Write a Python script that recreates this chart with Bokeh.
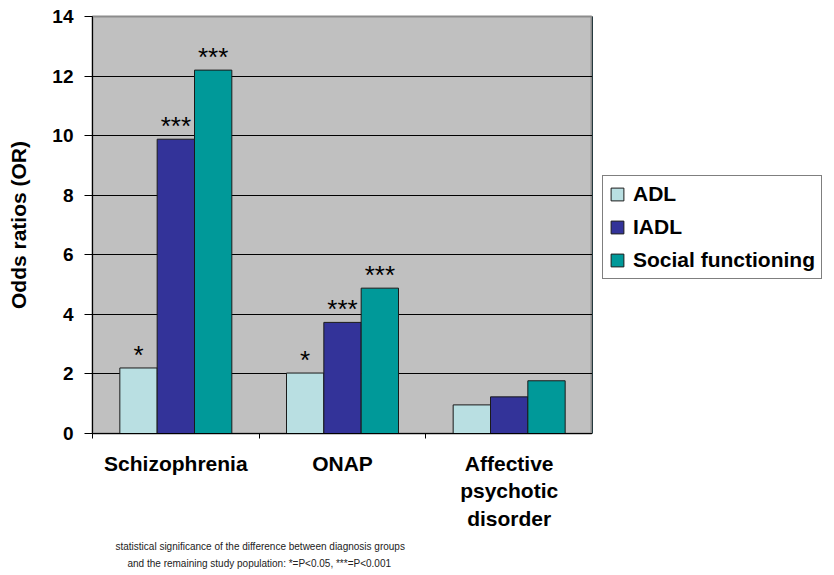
from bokeh.plotting import figure
from bokeh.layouts import row
from bokeh.models import Range1d, FixedTicker, Title, ColumnDataSource, Legend, LegendItem
from bokeh.core.properties import value
from bokeh.embed import file_html
from bokeh.resources import INLINE

categories = ["Schizophrenia", "ONAP", "Affective\npsychotic\ndisorder"]
series = ["ADL", "IADL", "Social functioning"]
adl = [2.2, 2.03, 0.96]
iadl = [9.88, 3.73, 1.23]
social = [12.2, 4.88, 1.77]
adl_sig = ["*", "*", ""]
iadl_sig = ["***", "***", ""]
social_sig = ["***", "***", ""]
colors = ["#B9DFE2", "#333399", "#009999"]
y_ticks = [0, 2, 4, 6, 8, 10, 12, 14]
footnote = ["statistical significance of the difference between diagnosis groups",
            "and the remaining study population: *=P<0.05, ***=P<0.001"]

FONT = "Liberation Sans"
H = 575

p = figure(width=592, height=H, output_backend="svg", toolbar_location=None,
           x_range=Range1d(0, len(categories)), y_range=Range1d(0, 14),
           min_border_left=92, min_border_right=0, min_border_top=16,
           min_border_bottom=142)
p.border_fill_color = "white"
p.background_fill_color = "#C0C0C0"
p.outline_line_color = "#8C8C8C"
p.outline_line_width = 2

bw = 0.224
offsets = [-bw, 0.0, bw]
values = [adl, iadl, social]
sigs = [adl_sig, iadl_sig, social_sig]
for k in range(3):
    xs = [i + 0.5 + offsets[k] for i in range(len(categories))]
    src = ColumnDataSource(dict(x=xs, top=values[k], sig=sigs[k]))
    p.vbar(x="x", top="top", width=bw, source=src, fill_color=colors[k],
           line_color="#1a1a1a", line_width=1)
    p.text(x="x", y="top", text="sig", source=src, text_align="center",
           text_baseline="alphabetic", y_offset=-13, text_font_size="26px",
           text_font=value(FONT), text_color="black")

# axes
p.yaxis.ticker = FixedTicker(ticks=y_ticks)
p.yaxis.axis_label = "Odds ratios (OR)"
p.yaxis.axis_label_text_font = FONT
p.yaxis.axis_label_text_font_size = "21px"
p.yaxis.axis_label_text_font_style = "bold"
p.yaxis.axis_label_text_color = "black"
p.yaxis.axis_label_standoff = 19
p.yaxis.major_label_text_font = FONT
p.yaxis.major_label_text_font_size = "19px"
p.yaxis.major_label_text_font_style = "bold"
p.yaxis.major_label_text_color = "black"
p.yaxis.major_label_standoff = 11
p.yaxis.major_tick_out = 8
p.yaxis.major_tick_in = 0
p.yaxis.minor_tick_line_color = None
p.yaxis.axis_line_color = "black"
p.yaxis.major_tick_line_color = "black"

label_pos = [i + 0.5 for i in range(len(categories))]
p.xaxis.ticker = FixedTicker(ticks=label_pos, minor_ticks=list(range(len(categories) + 1)))
p.xaxis.major_label_overrides = {pos: lab for pos, lab in zip(label_pos, categories)}
p.xaxis.major_tick_line_color = None
p.xaxis.major_tick_out = 0
p.xaxis.major_tick_in = 0
p.xaxis.minor_tick_line_color = "black"
p.xaxis.minor_tick_out = 5
p.xaxis.minor_tick_in = 0
p.xaxis.axis_line_color = "black"
p.xaxis.major_label_standoff = 13
p.xaxis.major_label_text_font = FONT
p.xaxis.major_label_text_font_size = "21px"
p.xaxis.major_label_text_font_style = "bold"
p.xaxis.major_label_text_color = "black"

p.xgrid.grid_line_color = None
p.ygrid.grid_line_color = "black"
p.ygrid.grid_line_width = 1

# footnote
for txt, off, so in zip(footnote, [23, 35], [13, -6]):
    p.add_layout(Title(text=txt, align="left", offset=off, text_font=FONT,
                       text_font_size="10px", text_font_style="normal",
                       text_color="#222222", standoff=so), "below")

# legend panel (separate figure to the right of the chart)
p2 = figure(width=242, height=H, output_backend="svg", toolbar_location=None,
            x_range=Range1d(0, 1), y_range=Range1d(0, 1),
            min_border=0)
p2.axis.visible = False
p2.grid.visible = False
p2.outline_line_color = None
p2.background_fill_color = "white"
p2.border_fill_color = "white"
items = []
for k in range(3):
    # key swatches only: one hidden bar placed outside the visible range
    r = p2.vbar(x=[-10], top=[adl[0]], width=0.1, fill_color=colors[k],
                line_color="#1a1a1a", line_width=1)
    items.append(LegendItem(label=series[k], renderers=[r]))

lg = Legend(items=items, location=(10, 154))
lg.border_line_color = "black"
lg.border_line_width = 1
lg.background_fill_color = "white"
lg.background_fill_alpha = 1
lg.label_text_font = FONT
lg.label_text_font_size = "21px"
lg.label_text_font_style = "bold"
lg.label_text_color = "black"
lg.glyph_width = 16
lg.glyph_height = 16
lg.label_height = 24
lg.spacing = 9
lg.padding = 6
lg.margin = 0
lg.label_standoff = 8
p2.add_layout(lg, "center")

layout = row(p, p2, spacing=0)
open("out.html", "w").write(file_html(layout, INLINE))
